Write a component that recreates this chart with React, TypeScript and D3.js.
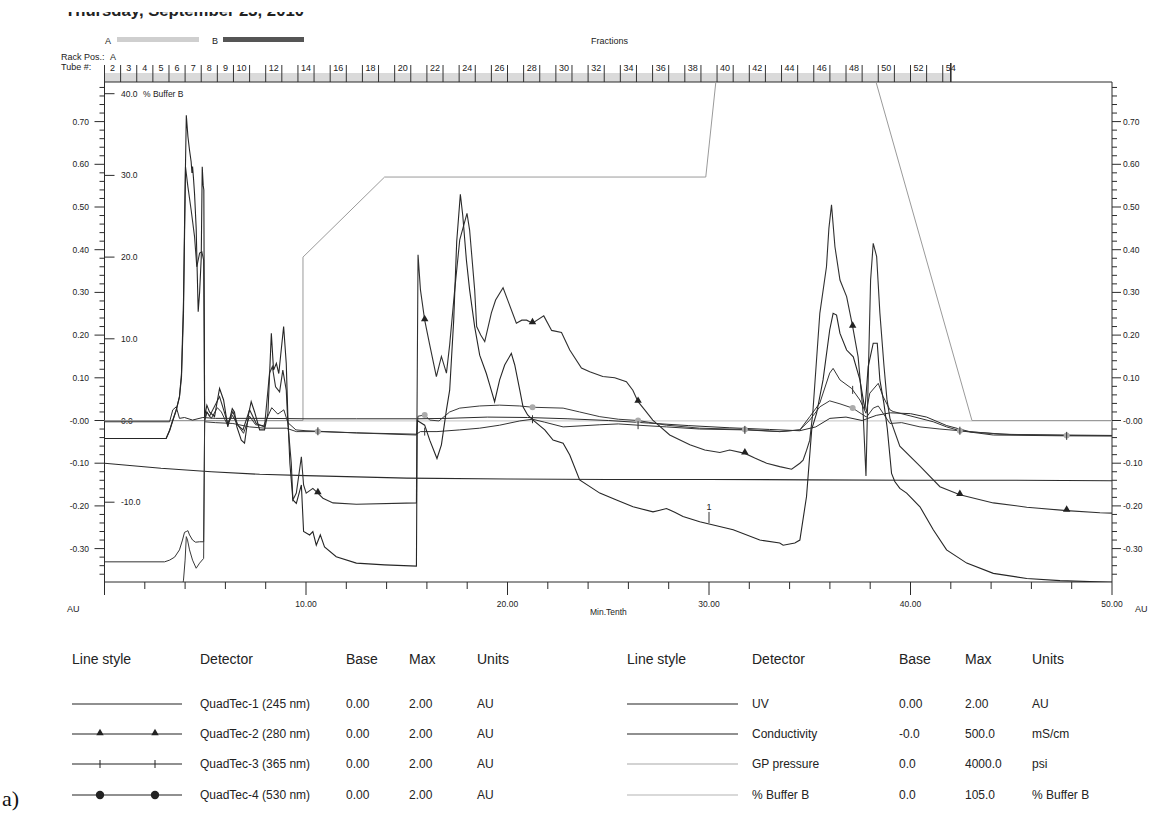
import { useEffect, useRef } from "react"
import * as d3 from "d3"

type Pt = [number, number]

// time in minutes, detector signals in AU, buffer in %B
const runDate = "Thursday, September 23, 2010"

const quadTec1: Pt[] = [
  [0, -0.042], [3.06, -0.042], [3.23, -0.023], [3.38, 0.0], [3.56, 0.025], [3.72, 0.056], [3.82, 0.11], [3.92, 0.28],
  [3.97, 0.45], [4.02, 0.6], [4.06, 0.715], [4.14, 0.665], [4.22, 0.633], [4.3, 0.606], [4.34, 0.58], [4.37, 0.595],
  [4.42, 0.565], [4.47, 0.53], [4.55, 0.45], [4.6, 0.35], [4.65, 0.255], [4.72, 0.3], [4.8, 0.38], [4.85, 0.594],
  [4.9, 0.55], [4.93, 0.54], [4.97, 0.009], [5.08, 0.036], [5.21, 0.02], [5.46, 0.009], [5.71, 0.075], [5.91, 0.048],
  [6.12, -0.015], [6.34, 0.028], [6.45, 0.02], [6.57, -0.015], [6.79, -0.046], [6.95, -0.053], [7.16, 0.017],
  [7.28, 0.044], [7.45, 0.02], [7.7, -0.022], [7.94, -0.022], [8.11, 0.017], [8.28, 0.204], [8.39, 0.118],
  [8.53, 0.134], [8.65, 0.11], [8.89, 0.22], [9.02, 0.134], [9.1, 0.009], [9.2, -0.1], [9.35, -0.186], [9.52, -0.194],
  [9.77, -0.151], [9.88, -0.26], [10.18, -0.268], [10.34, -0.26], [10.51, -0.292], [10.71, -0.268], [10.92, -0.296],
  [11.5, -0.319], [12.5, -0.334], [13.9, -0.338], [15.48, -0.341], [15.52, 0.0], [15.89, -0.011], [16.14, -0.046],
  [16.5, -0.089], [16.72, -0.057], [16.97, 0.025], [17.13, 0.071], [17.33, 0.235], [17.48, 0.42], [17.66, 0.53],
  [17.78, 0.48], [17.96, 0.376], [18.12, 0.306], [18.37, 0.22], [18.62, 0.153], [18.95, 0.11], [19.12, 0.083],
  [19.36, 0.044], [19.61, 0.095], [19.86, 0.13], [20.19, 0.157], [20.36, 0.13], [20.61, 0.071], [20.77, 0.032],
  [21.0, 0.013], [21.27, 0.001], [21.85, -0.022], [22.26, -0.046], [22.76, -0.053], [23.09, -0.081], [23.58, -0.139],
  [24.58, -0.17], [25.41, -0.186], [26.23, -0.202], [27.22, -0.214], [27.56, -0.21], [27.89, -0.206], [28.3, -0.215],
  [28.71, -0.225], [29.54, -0.237], [31.2, -0.256], [32.52, -0.28], [33.51, -0.287], [33.68, -0.292], [34.26, -0.287],
  [34.51, -0.28], [34.84, -0.178], [35.1, -0.02], [35.34, 0.017], [35.66, 0.095], [35.99, 0.212], [36.16, 0.251],
  [36.33, 0.247], [36.5, 0.204], [36.83, 0.165], [37.16, 0.149], [37.49, 0.095], [37.74, 0.025], [37.9, 0.126],
  [38.15, 0.181], [38.35, 0.181], [38.48, 0.095], [38.68, 0.04], [38.85, -0.02], [39.06, -0.124], [39.22, -0.143],
  [39.47, -0.159], [39.81, -0.17], [40.47, -0.202], [41.13, -0.256], [41.79, -0.303], [42.79, -0.334],
  [44.11, -0.358], [45.77, -0.37], [47.42, -0.375], [50, -0.379],
]

const quadTec2: Pt[] = [
  [0, -0.042], [3.06, -0.042], [3.23, -0.024], [3.38, -0.002], [3.56, 0.024], [3.72, 0.055], [3.82, 0.1], [3.92, 0.25],
  [4.02, 0.594], [4.14, 0.547], [4.3, 0.493], [4.47, 0.43], [4.58, 0.36], [4.72, 0.392], [4.83, 0.395], [4.92, 0.376],
  [4.97, 0.0], [5.08, 0.02], [5.21, 0.01], [5.71, 0.056], [6.12, -0.007], [6.37, 0.021], [6.62, -0.011], [6.87, -0.022],
  [7.2, 0.025], [7.53, -0.007], [7.94, -0.015], [8.19, 0.111], [8.33, 0.126], [8.49, 0.079], [8.69, 0.067],
  [8.85, 0.118], [9.02, 0.071], [9.1, -0.007], [9.27, -0.1], [9.35, -0.186], [9.52, -0.17], [9.77, -0.085],
  [9.88, -0.151], [10.01, -0.17], [10.34, -0.159], [10.59, -0.17], [10.84, -0.182], [11.34, -0.193], [12.5, -0.196],
  [15.48, -0.193], [15.56, 0.388], [15.68, 0.306], [15.89, 0.235], [16.14, 0.177], [16.47, 0.103], [16.72, 0.15],
  [16.97, 0.111], [17.13, 0.177], [17.38, 0.306], [17.63, 0.423], [17.99, 0.485], [18.12, 0.446], [18.37, 0.306],
  [18.47, 0.22], [18.67, 0.2], [18.87, 0.185], [19.2, 0.252], [19.41, 0.282], [19.78, 0.311], [20.01, 0.282],
  [20.44, 0.228], [20.71, 0.235], [20.95, 0.235], [21.24, 0.228], [21.8, 0.245], [22.19, 0.211], [22.68, 0.206],
  [23.09, 0.165], [23.67, 0.123], [24.08, 0.114], [24.73, 0.103], [25.32, 0.1], [25.9, 0.091], [26.22, 0.071],
  [26.48, 0.044], [26.81, 0.025], [27.21, 0.001], [28.05, -0.034], [29.05, -0.057], [29.79, -0.069], [30.54, -0.075],
  [31.03, -0.069], [31.78, -0.077], [32.27, -0.088], [32.86, -0.1], [33.51, -0.108], [34.1, -0.114], [34.51, -0.1],
  [34.67, -0.093], [34.84, -0.07], [35.0, -0.046], [35.15, 0.017], [35.5, 0.251], [35.83, 0.36], [35.95, 0.45],
  [36.08, 0.505], [36.25, 0.407], [36.5, 0.329], [36.83, 0.29], [37.13, 0.22], [37.4, 0.149], [37.65, 0.017],
  [37.79, -0.13], [37.9, 0.095], [38.02, 0.329], [38.15, 0.415], [38.32, 0.384], [38.48, 0.252], [38.68, 0.13],
  [38.83, 0.05], [38.98, 0.005], [39.47, -0.06], [40.47, -0.107], [41.46, -0.155], [42.45, -0.174], [44.11, -0.193],
  [45.77, -0.203], [47.75, -0.211], [49.4, -0.216], [50, -0.217],
]

const quadTec3: Pt[] = [
  [0, -0.331], [2.98, -0.331], [3.23, -0.327], [3.48, -0.32], [3.72, -0.303], [3.87, -0.28], [3.97, -0.262],
  [4.06, -0.26], [4.14, -0.258], [4.22, -0.268], [4.37, -0.28], [4.52, -0.285], [4.72, -0.284], [4.92, -0.284],
  [4.97, 0.0], [5.08, 0.02], [5.3, 0.005], [5.6, 0.03], [5.8, 0.02], [6.1, -0.01], [6.35, 0.012], [6.6, -0.01],
  [6.9, -0.03], [7.2, 0.01], [7.5, -0.01], [7.9, -0.012], [8.3, 0.03], [8.6, 0.015], [8.9, 0.025], [9.1, -0.005],
  [9.5, -0.022], [10.0, -0.024], [12.5, -0.029], [15.48, -0.032], [15.68, -0.026], [16.5, -0.026], [17.63, -0.022],
  [18.62, -0.018], [19.61, -0.011], [20.61, -0.001], [21.24, 0.003], [21.85, -0.004], [22.76, -0.015], [24.58, -0.01],
  [25.5, -0.008], [26.48, -0.011], [27.89, -0.015], [29.54, -0.02], [31.78, -0.022], [33.51, -0.026], [34.51, -0.022],
  [35.0, 0.009], [35.5, 0.041], [35.99, 0.111], [36.16, 0.122], [36.5, 0.095], [37.08, 0.075], [37.49, 0.048],
  [37.79, 0.017], [37.98, 0.064], [38.4, 0.087], [38.64, 0.056], [38.98, 0.025], [39.14, 0.021], [40.47, 0.005],
  [41.13, -0.003], [41.79, -0.015], [42.45, -0.024], [44.11, -0.034], [47.75, -0.036], [50, -0.036],
]

const quadTec4: Pt[] = [
  [0, -0.43], [3.56, -0.43], [3.72, -0.42], [3.82, -0.398], [3.92, -0.374], [4.0, -0.327], [4.06, -0.272],
  [4.12, -0.28], [4.22, -0.303], [4.37, -0.327], [4.55, -0.346], [4.72, -0.334], [4.92, -0.323], [4.97, -0.003],
  [5.5, -0.005], [6.37, -0.007], [7.2, -0.015], [7.94, -0.018], [9.02, -0.018], [9.52, -0.026], [10.59, -0.026],
  [12.5, -0.029], [15.48, -0.034], [15.56, 0.01], [15.89, 0.013], [16.14, 0.001], [16.6, -0.001], [17.13, 0.02],
  [17.63, 0.029], [18.62, 0.034], [19.61, 0.036], [20.61, 0.034], [21.24, 0.031], [22.76, 0.029], [23.58, 0.02],
  [24.58, 0.009], [25.5, 0.003], [26.48, 0.0], [27.89, -0.011], [29.54, -0.018], [31.78, -0.021], [33.51, -0.026],
  [34.51, -0.022], [35.0, 0.001], [35.5, 0.032], [35.99, 0.046], [36.5, 0.039], [37.13, 0.029], [37.65, 0.013],
  [37.82, 0.008], [38.15, 0.029], [38.4, 0.034], [38.64, 0.017], [38.98, -0.007], [39.56, -0.005], [40.47, -0.015],
  [41.46, -0.02], [42.45, -0.024], [44.44, -0.032], [47.75, -0.035], [50, -0.036],
]

const uv: Pt[] = [
  [0, -0.003], [3.23, -0.003], [3.39, 0.025], [3.56, 0.032], [3.72, 0.005], [3.97, 0.007], [4.37, 0.001],
  [4.88, 0.007], [5.5, 0.005], [8.0, 0.005], [10.0, 0.004], [12.5, 0.004], [15.48, 0.004], [17.0, 0.005],
  [19.0, 0.008], [21.0, 0.007], [23.0, 0.004], [25.0, 0.0], [27.0, -0.006], [29.0, -0.012], [31.0, -0.017],
  [33.0, -0.021], [34.5, -0.024], [35.3, -0.015], [36.0, 0.005], [36.8, 0.008], [37.6, 0.0], [38.3, 0.012],
  [39.0, 0.018], [40.0, 0.016], [40.8, 0.008], [41.8, -0.012], [43.0, -0.027], [45.0, -0.033], [50, -0.035],
]

const conductivity: Pt[] = [
  [0, -0.1], [2.8, -0.112], [5.3, -0.12], [7.7, -0.126], [10, -0.129], [12.5, -0.132], [15, -0.135], [20, -0.137],
  [25, -0.138], [30, -0.138], [35, -0.139], [40, -0.14], [45, -0.14], [50, -0.141],
]

const gpPressure: Pt[] = [[0, -0.001], [50, -0.001]]

const bufferB: Pt[] = [
  [0, 0], [9.85, 0], [9.85, 20.0], [13.9, 29.8], [29.84, 29.8], [32.5, 91.8], [43.05, 0], [50, 0],
]

const markerTimes = [10.59, 15.89, 21.24, 26.48, 31.78, 37.13, 42.45, 47.75]

const timeTicks = [10, 20, 30, 40, 50]
const bufferTicks = [40, 30, 20, 10, 0, -10]
const tubeLabels = [2, 3, 4, 5, 6, 7, 8, 9, 10, 12, 14, 16, 18, 20, 22, 24, 26, 28, 30, 32, 34, 36, 38, 40, 42, 44, 46, 48, 50, 52, 54]
const tubeWidth = 0.8
const fractionEnd = 42

const leftDetectors = ["QuadTec-1 (245 nm)", "QuadTec-2 (280 nm)", "QuadTec-3 (365 nm)", "QuadTec-4 (530 nm)"]
const leftBase = ["0.00", "0.00", "0.00", "0.00"]
const leftMax = ["2.00", "2.00", "2.00", "2.00"]
const leftUnits = ["AU", "AU", "AU", "AU"]
const rightDetectors = ["UV", "Conductivity", "GP pressure", "% Buffer B"]
const rightBase = ["0.00", "-0.0", "0.0", "0.0"]
const rightMax = ["2.00", "500.0", "4000.0", "105.0"]
const rightUnits = ["AU", "mS/cm", "psi", "% Buffer B"]

function valueAt(s: Pt[], t: number) {
  for (let i = 1; i < s.length; i++) {
    const [t0, v0] = s[i - 1]
    const [t1, v1] = s[i]
    if (t >= t0 && t <= t1) return t1 === t0 ? v1 : v0 + ((v1 - v0) * (t - t0)) / (t1 - t0)
  }
  return s[s.length - 1][1]
}

export default function App() {
  const svgRef = useRef<SVGSVGElement>(null)

  useEffect(() => {
    if (!svgRef.current) return
    const svg = d3.select(svgRef.current)
    svg.selectAll("*").remove()

    const font = "'Liberation Sans', Arial, sans-serif"
    const ink = "#2b2b2b"
    const top = 82
    const bottom = 582

    const x = d3.scaleLinear().domain([0, 50]).range([104.5, 1112])
    const y = d3.scaleLinear().domain([0, 0.7]).range([420.5, 121.6])
    const yB = d3.scaleLinear().domain([0, 40]).range([420.5, 93.7])
    const left = x(0)
    const right = x(50)

    const defs = svg.append("defs")
    defs.append("clipPath").attr("id", "plotClip").append("rect")
      .attr("x", left).attr("y", top).attr("width", right - left).attr("height", bottom - top)
    defs.append("clipPath").attr("id", "dateClip").append("rect")
      .attr("x", 0).attr("y", 12).attr("width", 500).attr("height", 20)

    const text = (g: any, tx: number, ty: number, s: string, size: number, anchor = "start") =>
      g.append("text").attr("x", tx).attr("y", ty).attr("font-family", font).attr("font-size", size)
        .attr("fill", "#222").attr("text-anchor", anchor).text(s)

    // run date, cut off at the top of the page
    svg.append("text").attr("clip-path", "url(#dateClip)")
      .attr("x", 65).attr("y", 16).attr("font-family", font).attr("font-weight", "bold").attr("font-size", 16)
      .attr("textLength", 239).attr("lengthAdjust", "spacingAndGlyphs").attr("fill", "#222").text(runDate)

    // rack legend
    text(svg, 105, 44, "A", 9)
    svg.append("rect").attr("x", 117).attr("y", 37).attr("width", 82).attr("height", 5).attr("fill", "#cfcfcf")
    text(svg, 212, 44, "B", 9)
    svg.append("rect").attr("x", 223).attr("y", 37).attr("width", 81).attr("height", 5).attr("fill", "#555")
    text(svg, 591, 44, "Fractions", 9)
    text(svg, 61, 60, "Rack Pos.:", 9)
    text(svg, 110, 60, "A", 9)
    text(svg, 61, 70, "Tube #:", 9)

    // fraction strip
    svg.append("rect").attr("x", x(0)).attr("y", 73).attr("width", x(fractionEnd) - x(0)).attr("height", 9)
      .attr("fill", "#dadada")
    const bounds = d3.range(0, 53).map((k) => k * tubeWidth)
    svg.append("g").selectAll("line").data(bounds).enter().append("line")
      .attr("x1", (d) => x(d)).attr("x2", (d) => x(d)).attr("y1", 65).attr("y2", top)
      .attr("stroke", "#333").attr("stroke-width", 1)
    svg.append("line").attr("x1", x(fractionEnd)).attr("x2", x(fractionEnd)).attr("y1", 63).attr("y2", top)
      .attr("stroke", "#333").attr("stroke-width", 1.6)
    svg.append("g").selectAll("text").data(tubeLabels).enter().append("text")
      .attr("x", (n) => x((n - 2) * tubeWidth + tubeWidth / 2)).attr("y", 71)
      .attr("text-anchor", "middle").attr("font-family", font).attr("font-size", 9).attr("fill", "#222")
      .text((n) => n)

    // frame
    const frame = svg.append("g").attr("stroke", ink).attr("stroke-width", 1).attr("fill", "none")
    frame.append("line").attr("x1", left).attr("x2", right).attr("y1", top).attr("y2", top)
    frame.append("line").attr("x1", left).attr("x2", left).attr("y1", top).attr("y2", bottom)
    frame.append("line").attr("x1", right).attr("x2", right).attr("y1", top).attr("y2", bottom)
    frame.append("line").attr("x1", left).attr("x2", right).attr("y1", bottom).attr("y2", bottom)

    // AU ticks, both sides
    const auTicks = d3.range(-36, 80, 2)
    const fmtAU = (i: number) => (i <= 0 ? "-" : "") + (Math.abs(i) / 100).toFixed(2)
    auTicks.forEach((i) => {
      const major = i % 10 === 0
      const ty = y(i / 100)
      frame.append("line").attr("x1", left - (major ? 10 : 5)).attr("x2", left).attr("y1", ty).attr("y2", ty)
      frame.append("line").attr("x1", right).attr("x2", right + (major ? 9 : 5)).attr("y1", ty).attr("y2", ty)
      if (major && i >= -30 && i <= 70) {
        text(svg, 89, ty + 3, fmtAU(i), 8.5, "end")
        text(svg, 1123, ty + 3, fmtAU(i), 8.5)
      }
    })

    // %B ticks inside the left axis
    bufferTicks.forEach((b) => {
      const ty = yB(b)
      frame.append("line").attr("x1", left).attr("x2", left + 10).attr("y1", ty).attr("y2", ty)
      text(svg, 121, ty + 3, b.toFixed(1), 8.5)
    })
    text(svg, 143, yB(40) + 3, "% Buffer B", 8.5)

    // time axis
    d3.range(0, 51, 2).forEach((t) => {
      const major = t % 10 === 0
      frame.append("line").attr("x1", x(t)).attr("x2", x(t)).attr("y1", bottom).attr("y2", bottom + (major ? 13 : 7))
    })
    timeTicks.forEach((t) => text(svg, x(t), 607, t.toFixed(2), 8.5, "middle"))
    text(svg, 590, 615, "Min.Tenth", 8.5)
    text(svg, 67, 612, "AU", 9)
    text(svg, 1135, 612, "AU", 9)

    // traces
    const plot = svg.append("g").attr("clip-path", "url(#plotClip)").attr("fill", "none")
    const line = d3.line<Pt>().x((d) => x(d[0])).y((d) => y(d[1]))
    const lineB = d3.line<Pt>().x((d) => x(d[0])).y((d) => yB(d[1]))
    plot.append("path").attr("d", line(gpPressure)).attr("stroke", "#cfcfcf").attr("stroke-width", 1.2)
    plot.append("path").attr("d", lineB(bufferB)).attr("stroke", "#9a9a9a").attr("stroke-width", 1)
    plot.append("path").attr("d", line(conductivity)).attr("stroke", ink).attr("stroke-width", 1.1)
    plot.append("path").attr("d", line(uv)).attr("stroke", ink).attr("stroke-width", 1)
    plot.append("path").attr("d", line(quadTec4)).attr("stroke", "#3a3a3a").attr("stroke-width", 1)
    plot.append("path").attr("d", line(quadTec3)).attr("stroke", "#333").attr("stroke-width", 1)
    plot.append("path").attr("d", line(quadTec2)).attr("stroke", "#303030").attr("stroke-width", 1.1)
    plot.append("path").attr("d", line(quadTec1)).attr("stroke", "#262626").attr("stroke-width", 1.1)

    const tri = d3.symbol().type(d3.symbolTriangle).size(24)() as string
    markerTimes.forEach((t) => {
      plot.append("circle").attr("cx", x(t)).attr("cy", y(valueAt(quadTec4, t))).attr("r", 3).attr("fill", "#ababab")
      const cy3 = y(valueAt(quadTec3, t))
      plot.append("line").attr("x1", x(t)).attr("x2", x(t)).attr("y1", cy3 - 4).attr("y2", cy3 + 4)
        .attr("stroke", "#333").attr("stroke-width", 1)
      plot.append("path").attr("d", tri).attr("fill", "#222")
        .attr("transform", `translate(${x(t)},${y(valueAt(quadTec2, t)) - 1})`)
    })

    // trace number label
    const labT = 30
    const labY = y(valueAt(quadTec1, labT))
    text(svg, x(labT), labY - 14, "1", 9, "middle")
    svg.append("line").attr("x1", x(labT)).attr("x2", x(labT)).attr("y1", labY - 12).attr("y2", labY - 1)
      .attr("stroke", "#333")

    // legend tables
    const rowsY = [708, 738, 768, 799]
    const drawTable = (x0: number, x1: number, cols: number[], names: string[], base: string[], max: string[],
      units: string[], styles: { color: string; mark: string }[]) => {
      text(svg, x0, 664, "Line style", 14)
      text(svg, cols[0], 664, "Detector", 14)
      text(svg, cols[1], 664, "Base", 14)
      text(svg, cols[2], 664, "Max", 14)
      text(svg, cols[3], 664, "Units", 14)
      names.forEach((name, i) => {
        const ly = rowsY[i] - 4
        const st = styles[i]
        svg.append("line").attr("x1", x0).attr("x2", x1).attr("y1", ly).attr("y2", ly)
          .attr("stroke", st.color).attr("stroke-width", 1.2)
        ;[x0 + 28, x0 + 83].forEach((mx) => {
          if (st.mark === "tri") svg.append("path").attr("d", tri).attr("fill", "#222").attr("transform", `translate(${mx},${ly - 1})`)
          if (st.mark === "cross") svg.append("line").attr("x1", mx).attr("x2", mx).attr("y1", ly - 4).attr("y2", ly + 4).attr("stroke", "#222")
          if (st.mark === "dot") svg.append("circle").attr("cx", mx).attr("cy", ly).attr("r", 4.2).attr("fill", "#222")
        })
        text(svg, cols[0], rowsY[i], name, 12)
        text(svg, cols[1], rowsY[i], base[i], 12)
        text(svg, cols[2], rowsY[i], max[i], 12)
        text(svg, cols[3], rowsY[i], units[i], 12)
      })
    }
    drawTable(72, 182, [200, 346, 409, 477], leftDetectors, leftBase, leftMax, leftUnits, [
      { color: "#222", mark: "" }, { color: "#222", mark: "tri" }, { color: "#222", mark: "cross" }, { color: "#222", mark: "dot" },
    ])
    drawTable(627, 738, [752, 899, 965, 1032], rightDetectors, rightBase, rightMax, rightUnits, [
      { color: "#222", mark: "" }, { color: "#222", mark: "" }, { color: "#a8a8a8", mark: "" }, { color: "#b4b4b4", mark: "" },
    ])

    svg.append("text").attr("x", 2).attr("y", 806).attr("font-family", "'Liberation Serif', 'Times New Roman', serif")
      .attr("font-size", 22).attr("fill", "#111").text("a)")
  }, [])

  return (
    <svg
      ref={svgRef}
      width={1149}
      height={819}
      style={{ position: "absolute", left: 0, top: 0, background: "#fff" }}
    />
  )
}
